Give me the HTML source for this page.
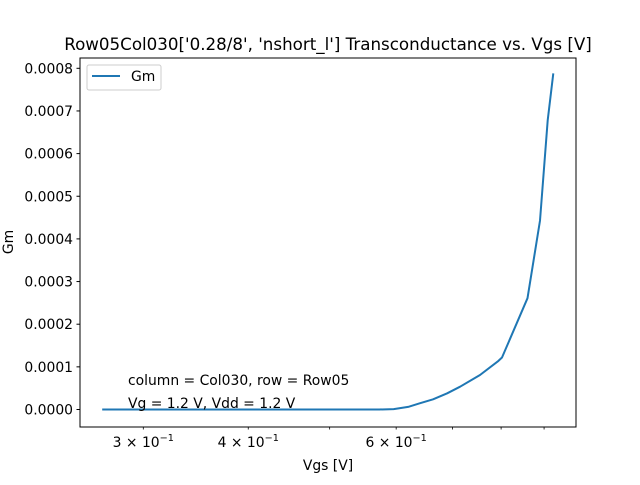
<!DOCTYPE html>
<html><head><meta charset="utf-8"><style>
body{margin:0;background:#fff;}
svg text{font-family:"DejaVu Sans","Liberation Sans",sans-serif;fill:#000;}
</style></head><body>
<svg id="chart" width="640" height="480" xmlns="http://www.w3.org/2000/svg">
<rect width="640" height="480" fill="#fff"/>
<text x="328" y="50" font-size="16.7" text-anchor="middle">Row05Col030['0.28/8', 'nshort_l'] Transconductance vs. Vgs [V]</text>
<g id="grid"></g>
<path id="line" fill="none" stroke="#1f77b4" stroke-width="2" stroke-linejoin="round"/>
<rect x="80" y="58" width="496" height="369" fill="none" stroke="#000" stroke-width="1"/>
<text x="128" y="385" font-size="13.9">column = Col030, row = Row05</text>
<text x="128" y="408" font-size="13.9">Vg = 1.2 V, Vdd = 1.2 V</text>
<text x="328" y="470" font-size="13.9" text-anchor="middle">Vgs [V]</text>
<text transform="translate(13,242) rotate(-90)" font-size="13.9" text-anchor="middle">Gm</text>
<g>
<rect x="87" y="65" width="74" height="25" rx="2" fill="#fff" stroke="#ccc" stroke-width="1"/>
<line x1="92" y1="76" x2="120" y2="76" stroke="#1f77b4" stroke-width="2"/>
<text x="131" y="81" font-size="13.9">Gm</text>
</g>
</svg>
<script>
const vgs = [0.268,0.30,0.35,0.40,0.45,0.50,0.55,0.573,0.596,0.620,0.640,0.664,0.690,0.715,0.755,0.794,0.802,0.860,0.890,0.909,0.923];
const gm = [0,0,0,0,0,0,0,0.001e-4,0.01e-4,0.06e-4,0.145e-4,0.24e-4,0.38e-4,0.535e-4,0.81e-4,1.14e-4,1.22e-4,2.61e-4,4.43e-4,6.78e-4,7.88e-4];
const yTicks = [0,0.0001,0.0002,0.0003,0.0004,0.0005,0.0006,0.0007,0.0008];
const yTickLabels = ["0.0000","0.0001","0.0002","0.0003","0.0004","0.0005","0.0006","0.0007","0.0008"];
const xTicks = [0.3,0.4,0.5,0.6,0.7,0.8,0.9];
const xTickMant = ["3","4","","6","","",""];
const X = v => 143.3 + 840*Math.log10(v/0.3);
const Y = v => 409.5 - v*426500;
const NS="http://www.w3.org/2000/svg";
const g=document.getElementById('grid');
function mk(tag,attrs){const e=document.createElementNS(NS,tag);for(const k in attrs)e.setAttribute(k,attrs[k]);return e;}
yTicks.forEach((t,i)=>{
  const l=mk('line',{x1:76.5,x2:80,y1:Y(t),y2:Y(t),stroke:'#000','stroke-width':1});
  
  
  g.appendChild(l);
  const tx=mk('text',{x:73,y:Y(t)+5,'font-size':13.9,'text-anchor':'end'});
  tx.textContent=yTickLabels[i];
  
  
  g.appendChild(tx);
});
xTicks.forEach((t,i)=>{
  const l=mk('line',{x1:X(t),x2:X(t),y1:427,y2:429.5,stroke:'#000','stroke-width':0.8});
  
  
  g.appendChild(l);
  if(xTickMant[i]){
    const tx=mk('text',{x:X(t),y:447,'font-size':13.9,'text-anchor':'middle'});
    tx.innerHTML=xTickMant[i]+' \u00d7 10<tspan dy="-6" font-size="9.7">\u22121</tspan>';
    
    
    g.appendChild(tx);
  }
});
document.getElementById('line').setAttribute('d',vgs.map((v,i)=>(i?'L':'M')+X(v).toFixed(1)+','+Y(gm[i]).toFixed(1)).join(''));
</script>
</body></html>
